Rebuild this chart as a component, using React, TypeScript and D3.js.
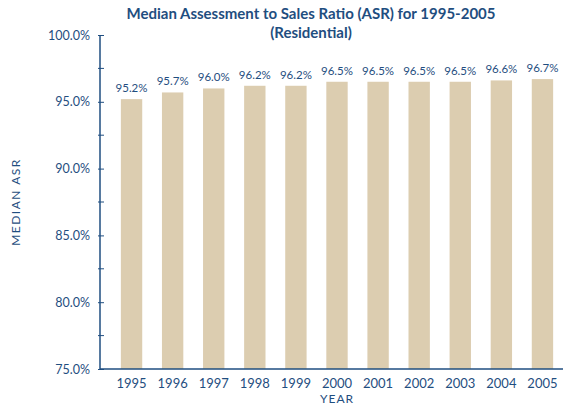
import React, { useRef, useEffect } from "react";
import * as d3 from "d3";

const years = ["1995", "1996", "1997", "1998", "1999", "2000", "2001", "2002", "2003", "2004", "2005"];
const asr = [95.2, 95.7, 96.0, 96.2, 96.2, 96.5, 96.5, 96.5, 96.5, 96.6, 96.7];
const yTicks = [75, 80, 85, 90, 95, 100];
const yMinorTicks = [77.5, 82.5, 87.5, 92.5, 97.5];

const BLUE = "#1f4e80";
const BAR = "#dccdb0";
const FONT = "Lato, 'Open Sans', sans-serif";

const App = () => {
  const ref = useRef<SVGSVGElement>(null);

  useEffect(() => {
    const svg = d3.select(ref.current);
    svg.selectAll("*").remove();

    const x = d3.scaleBand().domain(years).range([111, 563]).paddingInner(0.48).paddingOuter(0.24);
    const y = d3.scaleLinear().domain([75, 100]).range([369, 35]);

    svg.append("text")
      .attr("x", 311).attr("y", 19)
      .attr("text-anchor", "middle")
      .attr("font-family", FONT).attr("font-weight", "bold").attr("font-size", 15)
      .attr("fill", BLUE)
      .text("Median Assessment to Sales Ratio (ASR) for 1995-2005");
    svg.append("text")
      .attr("x", 311).attr("y", 38)
      .attr("text-anchor", "middle")
      .attr("font-family", FONT).attr("font-weight", "bold").attr("font-size", 15)
      .attr("fill", BLUE)
      .text("(Residential)");

    svg.selectAll("rect.bar").data(asr).enter().append("rect")
      .attr("class", "bar")
      .attr("x", (d, i) => x(years[i])!)
      .attr("y", d => y(d))
      .attr("width", x.bandwidth())
      .attr("height", d => y(75) - y(d))
      .attr("fill", BAR);

    svg.selectAll("text.val").data(asr).enter().append("text")
      .attr("class", "val")
      .attr("x", (d, i) => x(years[i])! + x.bandwidth() / 2)
      .attr("y", d => y(d) - 7)
      .attr("text-anchor", "middle")
      .attr("font-family", FONT).attr("font-size", 11.5)
      .attr("fill", BLUE)
      .text(d => d.toFixed(1) + "%");

    // y axis
    const yAxis = d3.axisLeft(y).tickValues(yTicks).tickSize(4).tickFormat(d => (+d).toFixed(1) + "%");
    const ga = svg.append("g").attr("transform", "translate(100,0)").call(yAxis);
    ga.select(".domain").remove();
    ga.selectAll(".tick line").attr("x2", 4).attr("x1", -2).attr("stroke", BLUE);
    ga.selectAll(".tick text").attr("x", -10).attr("font-family", FONT).attr("font-size", 12.5).attr("fill", BLUE);
    svg.selectAll("line.minor").data(yMinorTicks).enter().append("line")
      .attr("class", "minor")
      .attr("x1", 98).attr("x2", 104)
      .attr("y1", d => y(d)).attr("y2", d => y(d))
      .attr("stroke", BLUE);
    svg.append("line")
      .attr("x1", 100).attr("x2", 100).attr("y1", y(100)).attr("y2", y(75))
      .attr("stroke", BLUE).attr("stroke-width", 1.5);

    // x axis
    svg.append("line")
      .attr("x1", 100).attr("x2", 563).attr("y1", y(75)).attr("y2", y(75))
      .attr("stroke", BLUE).attr("stroke-width", 1.5);
    svg.selectAll("text.year").data(years).enter().append("text")
      .attr("class", "year")
      .attr("x", d => x(d)! + x.bandwidth() / 2)
      .attr("y", 388)
      .attr("text-anchor", "middle")
      .attr("font-family", FONT).attr("font-size", 13)
      .attr("fill", BLUE)
      .text(d => d);

    svg.append("text")
      .attr("x", 337).attr("y", 403)
      .attr("text-anchor", "middle")
      .attr("font-family", FONT).attr("font-size", 12).attr("letter-spacing", 1)
      .attr("fill", BLUE)
      .text("YEAR");
    svg.append("text")
      .attr("transform", "translate(20,202) rotate(-90)")
      .attr("text-anchor", "middle")
      .attr("font-family", FONT).attr("font-size", 12).attr("letter-spacing", 1.5)
      .attr("fill", BLUE)
      .text("MEDIAN ASR");
  }, []);

  return (
    <svg ref={ref} width={567} height={406} style={{ position: "absolute", left: 0, top: 0 }} />
  );
};

export default App;
